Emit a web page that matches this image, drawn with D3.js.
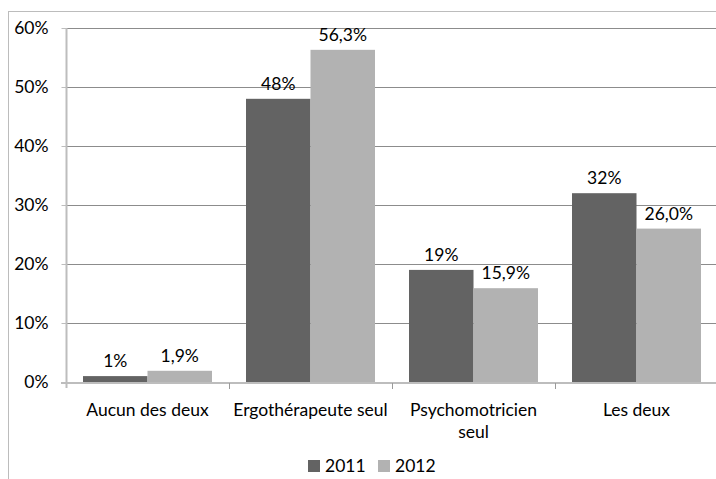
<!DOCTYPE html>
<html><head><meta charset="utf-8">
<script src="https://cdn.jsdelivr.net/npm/d3@7"></script>
<style>
html,body{margin:0;padding:0;background:#fff;}
svg text{font-family:Lato,"Open Sans",sans-serif;fill:#000;}
</style></head>
<body>
<svg id="c" width="716" height="479"></svg>
<script>
const categories = [["Aucun des deux"], ["Ergothérapeute seul"], ["Psychomotricien", "seul"], ["Les deux"]];
const seriesNames = ["2011", "2012"];
const values2011 = [1, 48, 19, 32];
const values2012 = [1.9, 56.3, 15.9, 26.0];
const labels2011 = ["1%", "48%", "19%", "32%"];
const labels2012 = ["1,9%", "56,3%", "15,9%", "26,0%"];
const yTicks = [0, 10, 20, 30, 40, 50, 60];
const colors = ["#636363", "#b2b2b2"];
const FS = 17.5;

const svg = d3.select("#c");
// outer chart border
svg.append("rect").attr("x", 8.5).attr("y", 11.5).attr("width", 740).attr("height", 500)
  .attr("fill", "none").attr("stroke", "#bcbcbc").attr("stroke-width", 1);

const x0 = d3.scaleBand().domain(d3.range(categories.length)).range([66, 718]).padding(0);
const x1 = d3.scaleBand().domain(seriesNames).range([17, x0.bandwidth() - 17]).padding(0);
const y = d3.scaleLinear().domain([0, 60]).range([382, 28]);

// gridlines
svg.append("g").selectAll("line").data(yTicks.filter(d => d > 0)).join("line")
  .attr("x1", 66).attr("x2", 718).attr("y1", d => Math.round(y(d)) + 0.5).attr("y2", d => Math.round(y(d)) + 0.5)
  .attr("stroke", "#8c8c8c").attr("stroke-width", 1);

// bars
const data = categories.map((c, i) => ({i, vals: [values2011[i], values2012[i]], labs: [labels2011[i], labels2012[i]]}));
const g = svg.append("g").selectAll("g").data(data).join("g")
  .attr("transform", d => `translate(${x0(d.i)},0)`);
g.selectAll("rect").data(d => d.vals.map((v, k) => ({v, k}))).join("rect")
  .attr("x", d => x1(seriesNames[d.k])).attr("width", x1.bandwidth())
  .attr("y", d => y(d.v)).attr("height", d => y(0) - y(d.v))
  .attr("fill", d => colors[d.k]);
g.selectAll("text").data(d => d.vals.map((v, k) => ({v, k, lab: d.labs[k]}))).join("text")
  .attr("x", d => x1(seriesNames[d.k]) + x1.bandwidth() / 2)
  .attr("y", d => y(d.v) - 9)
  .attr("text-anchor", "middle").attr("font-size", FS).text(d => d.lab);

// y axis
const yAxis = d3.axisLeft(y).tickValues(yTicks).tickSize(5).tickPadding(13).tickFormat(d => d + "%");
const ya = svg.append("g").attr("transform", "translate(66.5,0)").call(yAxis);
ya.select(".domain").attr("stroke", "#bdbdbd").attr("stroke-width", 2).attr("d", "M0,28V388");
ya.selectAll(".tick line").attr("stroke", "#bdbdbd").attr("stroke-width", 1);
ya.selectAll(".tick text").attr("font-size", FS).attr("font-family", "Lato,'Open Sans',sans-serif").attr("fill", "#000");

// x axis
svg.append("line").attr("x1", 61).attr("x2", 718).attr("y1", 383).attr("y2", 383)
  .attr("stroke", "#bdbdbd").attr("stroke-width", 2);
svg.append("g").selectAll("line").data(d3.range(1, categories.length)).join("line")
  .attr("x1", d => Math.round(x0(d)) + 0.5).attr("x2", d => Math.round(x0(d)) + 0.5)
  .attr("y1", 383).attr("y2", 389).attr("stroke", "#9a9a9a");
const xl = svg.append("g").selectAll("text").data(categories.map((c, i) => ({c, i}))).join("text")
  .attr("text-anchor", "middle").attr("font-size", FS)
  .attr("x", d => x0(d.i) + x0.bandwidth() / 2).attr("y", 416);
xl.selectAll("tspan").data(d => d.c.map((t, j) => ({t, j, x: x0(d.i) + x0.bandwidth() / 2}))).join("tspan")
  .attr("x", d => d.x).attr("dy", d => d.j === 0 ? 0 : 22).text(d => d.t);

// legend
const lg = svg.append("g").selectAll("g").data(seriesNames).join("g")
  .attr("transform", (d, i) => `translate(${308 + i * 70},460)`);
lg.append("rect").attr("width", 12).attr("height", 12).attr("fill", (d, i) => colors[i]);
lg.append("text").attr("x", 17).attr("y", 12).attr("font-size", FS).text(d => d);
</script>
</body></html>
